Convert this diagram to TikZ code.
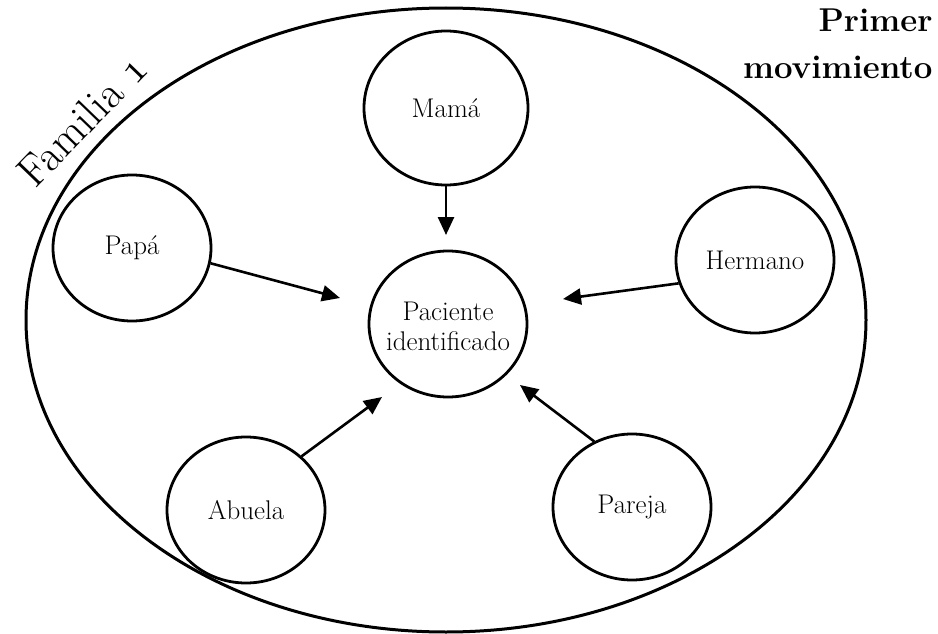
\RequirePackage{fix-cm}
\documentclass[tikz,border=0pt]{standalone}
\usetikzlibrary{shapes.geometric,arrows.meta}
\begin{document}
\begin{tikzpicture}[x=1pt,y=-1pt,
  member/.style={draw,ellipse,line width=2.8pt,inner sep=0pt,
    minimum width=158pt,minimum height=146pt},
  caption/.style={align=center,inner sep=0pt,
    font=\fontsize{27}{30}\selectfont},
  pointer/.style={-{Triangle[length=18pt,width=16pt]},line width=2.6pt}]
\useasboundingbox (0,0) rectangle (938,634);
% family boundary
\node[draw,ellipse,line width=3pt,minimum width=840pt,minimum height=624pt] (fam) at (446,320) {};
% labels
\node[rotate=46,font=\fontsize{44}{46}\selectfont] (famlabel) at (82,120)
  {Familia {\usefont{OML}{cmm}{m}{it}1}};
\node[anchor=north east,align=right,font=\bfseries\fontsize{33}{47}\selectfont] (mov) at (936,5) {Primer\\movimiento};
% members
\node[member,minimum width=164pt,minimum height=154pt] (mama) at (446,108) {};
\node[member] (papa) at (132,248) {};
\node[member] (herm) at (755,260) {};
\node[member] (pac) at (448,324) {};
\node[member] (abue) at (246,510) {};
\node[member] (pare) at (632,507) {};
% member names
\node[caption] (mamat) at (mama) {Mamá};
\node[caption] (papat) at (papa) {Papá};
\node[caption] (hermt) at (herm) {Hermano};
\node[caption,yshift=-2pt] (pact) at (pac) {Paciente\\identificado};
\node[caption] (abuet) at (abue) {Abuela};
\node[caption] (paret) at (pare) {Pareja};
% arrow tips, just short of the identified patient
\coordinate (tipmama) at (446,235);
\coordinate (tippapa) at (340,298);
\coordinate (tipherm) at (563,299);
\coordinate (tipabue) at (382,397);
\coordinate (tippare) at (520,385);
% influences on the identified patient
\draw[pointer] (mama.south) -- (tipmama);
\draw[pointer] (papa.-11) -- (tippapa);
\draw[pointer] (herm.197) -- (tipherm);
\draw[pointer] (abue.44) -- (tipabue);
\draw[pointer] (pare.120) -- (tippare);
\end{tikzpicture}
\end{document}
